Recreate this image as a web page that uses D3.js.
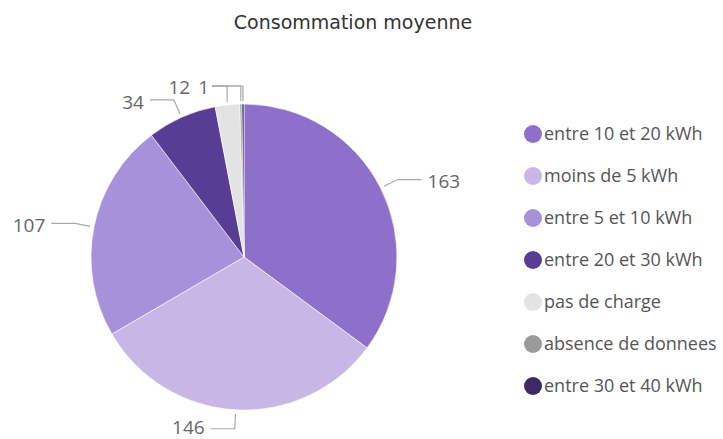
<!DOCTYPE html>
<html lang="fr">
<head>
<meta charset="utf-8" />
<title>Consommation moyenne</title>
<style>
  body { margin: 0; background: #fff; }
  svg { display: block; }
  .title { font-family: 'DejaVu Sans', sans-serif; font-size: 19px; fill: #333; }
  .lbl { font-family: 'Open Sans', sans-serif; font-size: 19px; fill: #666; }
  .leg { font-family: 'Open Sans', sans-serif; font-size: 18px; fill: #555; }
  .leader { fill: none; stroke: #a8a8a8; stroke-width: 1.2px; }
</style>
</head>
<body>
<script src="https://d3js.org/d3.v7.min.js"></script>
<script>
// ---- data ----
const categories = ["entre 10 et 20 kWh", "moins de 5 kWh", "entre 5 et 10 kWh", "entre 20 et 30 kWh",
                    "pas de charge", "absence de donnees", "entre 30 et 40 kWh"];
const values = [163, 146, 107, 34, 12, 1, 1];
const colors = ["#8d70c9", "#c7b6e6", "#a891db", "#573d93", "#e3e3e3", "#9a9a9a", "#3c2a66"];

// ---- layout ----
const W = 723, H = 439;
const cx = 244, cy = 257, R = 153;

const svg = d3.select("body").append("svg")
    .attr("width", W)
    .attr("height", H);

svg.append("text")
    .attr("class", "title")
    .attr("x", 353)
    .attr("y", 29)
    .attr("text-anchor", "middle")
    .text("Consommation moyenne");

const rows = categories.map((c, i) => ({ cat: c, value: values[i], color: colors[i] }));

const pie = d3.pie().value(d => d.value).sort(null);
const arcs = pie(rows);
const arc = d3.arc().innerRadius(0).outerRadius(R);

const g = svg.append("g").attr("transform", `translate(${cx},${cy})`);

g.selectAll("path.slice")
  .data(arcs)
  .join("path")
    .attr("class", "slice")
    .attr("d", arc)
    .attr("fill", d => d.data.color)
    .attr("stroke", "#fff")
    .attr("stroke-width", 0.6);

// ---- labels ----
const mid = d => (d.startAngle + d.endAngle) / 2;
const pt = (a, r) => [r * Math.sin(a), -r * Math.cos(a)];

const big = arcs.filter(d => d.value >= 30);
const small = arcs.filter(d => d.value < 30);

big.forEach(d => {
  const a = mid(d);
  const p1 = pt(a, R + 4);
  const p2 = pt(a, R + 19);
  const side = Math.sin(a) >= 0 ? 1 : -1;
  const p3 = [p2[0] + side * 24, p2[1]];
  g.append("path").attr("class", "leader")
    .attr("d", d3.line()([p1, p2, p3]));
  g.append("text").attr("class", "lbl")
    .attr("x", p3[0] + side * 6)
    .attr("y", Math.min(p3[1] + 2, H - cy - 12))
    .attr("dy", "0.35em")
    .attr("text-anchor", side > 0 ? "start" : "end")
    .text(d.value);
});

// small slices near the top: lines go straight up, labels stacked to the left
const yTop = -R - 18;
const xLine = -32;
small.forEach(d => {
  const p1 = pt(mid(d), R + 3);
  g.append("path").attr("class", "leader")
    .attr("d", d3.line()([p1, [p1[0], yTop], [xLine, yTop]]));
});
// only the first two fit, the last one is hidden like the original
let xr = xLine - 3;
small.slice(0, 2).reverse().forEach(d => {
  const t = g.append("text").attr("class", "lbl")
    .attr("x", xr)
    .attr("y", yTop + 1)
    .attr("dy", "0.35em")
    .attr("text-anchor", "end")
    .text(d.value);
  xr -= t.node().getComputedTextLength() + 8;
});

// ---- legend ----
const leg = svg.append("g").attr("transform", "translate(533,134)");
const item = leg.selectAll("g")
  .data(rows)
  .join("g")
    .attr("transform", (d, i) => `translate(0,${i * 42})`);
item.append("circle").attr("r", 9).attr("fill", d => d.color);
item.append("text").attr("class", "leg")
    .attr("x", 11)
    .attr("dy", "0.35em")
    .text(d => d.cat);
</script>
</body>
</html>
